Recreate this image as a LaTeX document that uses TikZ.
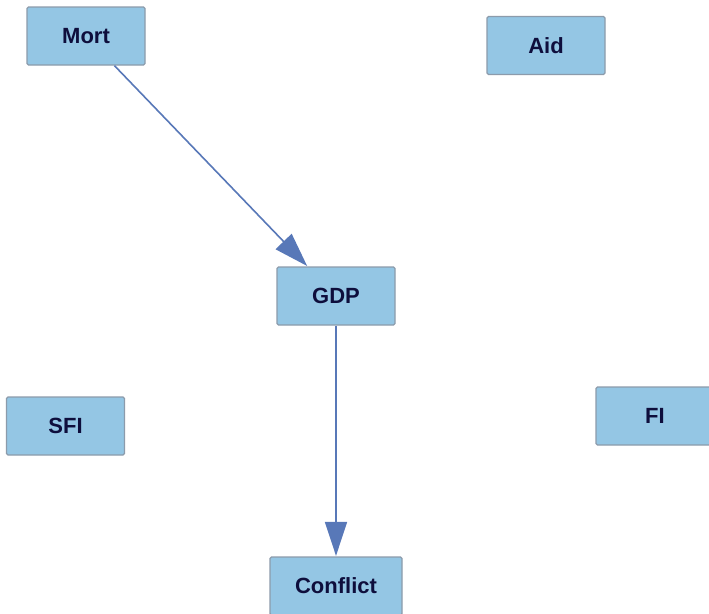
\documentclass[tikz,border=0pt]{standalone}
\usepackage{fontspec}
\setmainfont{Liberation Sans}
\usetikzlibrary{arrows.meta}
\definecolor{boxfill}{HTML}{94C6E4}
\definecolor{boxedge}{HTML}{8C9BAB}
\definecolor{boxtext}{HTML}{0E0E3C}
\definecolor{linkcol}{HTML}{5878B8}
\begin{document}
\begin{tikzpicture}[x=1pt,y=-1pt,
  varbox/.style={draw=boxedge, fill=boxfill, line width=1.3pt, rounded corners=1.5pt,
    minimum width=118pt, minimum height=58pt, inner sep=0pt,
    font=\fontsize{22}{24}\selectfont\bfseries, text=boxtext},
  link/.style={draw=linkcol, line width=1.6pt,
    -{Triangle[length=34pt,width=22pt,fill=linkcol]}, shorten >=0.5pt}]
  \clip (0,0) rectangle (709,613);
  \fill[white] (0,0) rectangle (709,613);
  \node[varbox] (mort) at (86,36) {Mort};
  \node[varbox] (aid) at (546,45.5) {Aid};
  \node[varbox] (gdp) at (336,296) {GDP};
  \node[varbox] (sfi) at (65.5,426) {SFI};
  \node[varbox] (fi) at (655,416) {FI};
  \node[varbox, minimum width=132pt] (conflict) at (336,586) {Conflict};
  \draw[link] (mort) -- (gdp);
  \draw[link] (gdp) -- (conflict);
\end{tikzpicture}
\end{document}
